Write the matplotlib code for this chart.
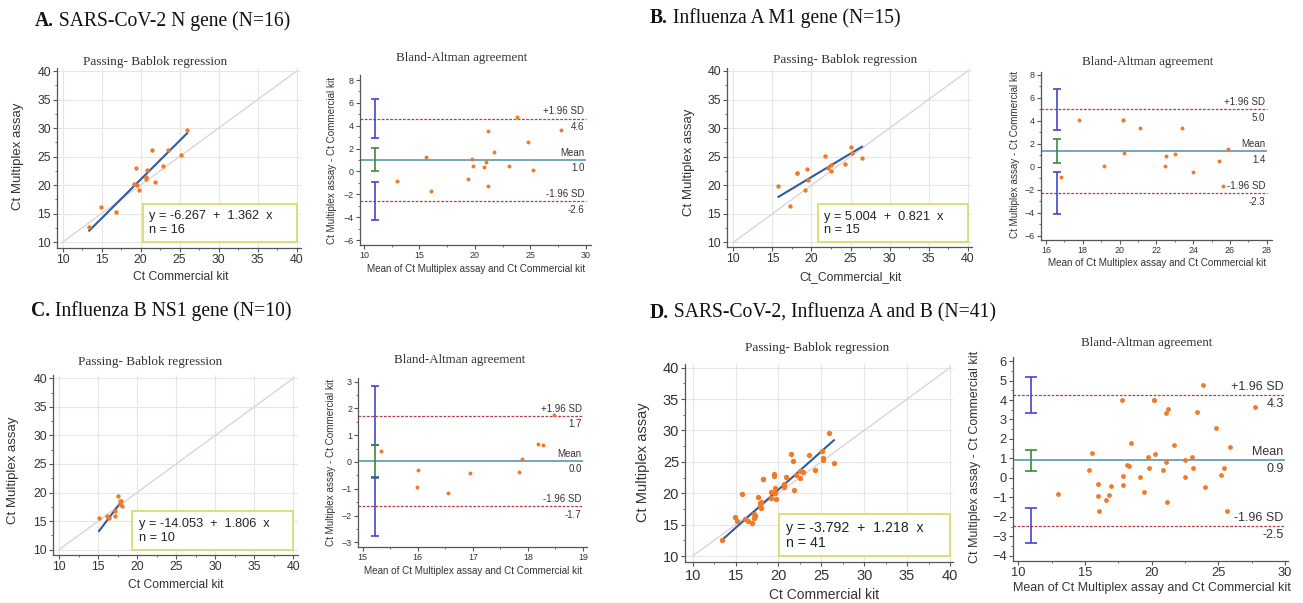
import matplotlib
matplotlib.use('Agg')
import matplotlib.pyplot as plt
import numpy as np
from matplotlib.ticker import MultipleLocator, AutoMinorLocator
from matplotlib.patches import Rectangle

W, H = 1303, 603
SERIF = 'Liberation Serif'
SANS = 'Liberation Sans'

# ---------------- data ----------------
# (Ct commercial kit, Ct multiplex assay)
a_commercial = [13.41, 14.92, 16.90, 19.76, 19.17, 19.55, 20.67, 20.65, 21.79, 19.44, 20.86, 22.86, 21.46, 23.52, 25.15, 25.95]
a_multiplex = [12.59, 16.20, 15.21, 19.06, 20.25, 20.05, 21.05, 21.44, 20.54, 23.00, 22.55, 23.36, 26.21, 26.09, 25.30, 29.60]

b_commercial = [17.27, 15.78, 19.12, 18.20, 18.20, 19.61, 19.43, 22.46, 22.07, 22.48, 21.72, 24.24, 25.15, 26.46, 25.10]
b_multiplex = [16.40, 19.80, 19.18, 22.22, 22.22, 20.83, 22.76, 22.49, 22.97, 23.55, 25.10, 23.75, 25.64, 24.78, 26.67]

c_commercial = [15.13, 16.15, 16.45, 17.13, 17.15, 18.01, 17.84, 17.85, 17.97, 17.59]
c_multiplex = [15.55, 15.84, 15.53, 15.98, 16.75, 17.65, 17.94, 18.51, 18.59, 19.36]

d_commercial = a_commercial + b_commercial + c_commercial
d_multiplex = a_multiplex + b_multiplex + c_multiplex

# Passing-Bablok: intercept, slope, n
a_fit = [-6.267, 1.362, 16]
b_fit = [5.004, 0.821, 15]
c_fit = [-14.053, 1.806, 10]
d_fit = [-3.792, 1.218, 41]

# Bland-Altman: mean difference, +1.96 SD, -1.96 SD
a_ba = [1.03, 4.63, -2.60]
b_ba = [1.36, 5.01, -2.29]
c_ba = [0.04, 1.73, -1.66]
d_ba = [0.92, 4.27, -2.46]

# 95% CI (low, high) for upper limit, mean, lower limit
a_ci = [(2.92, 6.32), (0.05, 2.01), (-4.29, -0.88)]
b_ci = [(3.22, 6.80), (0.32, 2.41), (-4.09, -0.49)]
c_ci = [(0.63, 2.82), (-0.58, 0.64), (-2.77, -0.57)]
d_ci = [(3.33, 5.20), (0.37, 1.45), (-3.33, -1.53)]

titles = ["A.", " SARS-CoV-2 N gene (N=16)", "B.", " Influenza A M1 gene (N=15)",
          "C.", " Influenza B NS1 gene (N=10)", "D.", " SARS-CoV-2, Influenza A and B (N=41)"]

# ---------------- styling ----------------
ORANGE = '#f07a28'
REGBLUE = '#2b5c9c'
IDENT = '#e2d2d2'
BOXC = '#d8d862'
MEANC = '#6aa0b4'
SDC = '#b0404e'
CIBLUE = '#4545d0'
CIGREEN = '#3b8b3b'
SPINE = '#555555'
TXT = '#333333'

fig = plt.figure(figsize=(W / 100, H / 100), dpi=100)


def px_ax(l, r, t, b):
    return fig.add_axes([l / W, 1 - b / H, (r - l) / W, (b - t) / H])


def ftext(x, y, s, **kw):
    return fig.text(x / W, 1 - y / H, s, **kw)


def style_axes(ax, fs):
    for s in ['top', 'right']:
        ax.spines[s].set_visible(False)
    for s in ['left', 'bottom']:
        ax.spines[s].set_color(SPINE)
        ax.spines[s].set_linewidth(0.9)
    ax.tick_params(which='major', direction='out', length=3, width=0.8, color=SPINE,
                   labelsize=fs, labelcolor=TXT, pad=1.5)
    ax.tick_params(which='minor', direction='out', length=1.6, width=0.6, color=SPINE)
    for lab in ax.get_xticklabels() + ax.get_yticklabels():
        lab.set_family(SANS)


def place_labels(ax, box, xlabel, ylabel, xl_xy, yl_xy, fsx, fsy):
    l, r, t, b = box
    ax.set_xlabel(xlabel, fontsize=fsx, family=SANS, color=TXT, va='center', ha='center')
    ax.xaxis.set_label_coords((xl_xy[0] - l) / (r - l), (b - xl_xy[1]) / (b - t))
    ax.set_ylabel(ylabel, fontsize=fsy, family=SANS, color=TXT, va='center', ha='center')
    ax.yaxis.set_label_coords((yl_xy[0] - l) / (r - l), (b - yl_xy[1]) / (b - t))


def regression_panel(box, xlim, ylim, com, mul, fit, eq_x0, eq_y1, title_xy, xlabel,
                     xl_xy, yl_xy, fs_tick, fsx, fsy, fs_eq, fs_title, msize):
    ax = px_ax(*box)
    ax.set_xlim(*xlim)
    ax.set_ylim(*ylim)
    ax.xaxis.set_major_locator(MultipleLocator(5))
    ax.yaxis.set_major_locator(MultipleLocator(5))
    ax.xaxis.set_minor_locator(AutoMinorLocator(2))
    ax.yaxis.set_minor_locator(AutoMinorLocator(2))
    ax.grid(which='major', color='#e6e6e6', lw=0.8)
    ax.set_axisbelow(True)
    ax.plot([10, 40], [10, 40], color=IDENT, lw=1.0, zorder=1)
    com = np.array(com)
    mul = np.array(mul)
    xs = np.array([com.min(), com.max()])
    ax.plot(xs, fit[0] + fit[1] * xs, color=REGBLUE, lw=1.5, zorder=2)
    ax.scatter(com, mul, s=msize, color=ORANGE, lw=0, zorder=3)
    ax.add_patch(Rectangle((eq_x0, 10), 40 - eq_x0, eq_y1 - 10, facecolor='white',
                           edgecolor=BOXC, lw=1.2, zorder=4, clip_on=False))
    ax.text(eq_x0 + 0.8, 10 + (eq_y1 - 10) * 0.67, f"y = {fit[0]:.3f}  +  {fit[1]:.3f}  x",
            fontsize=fs_eq, family=SANS, color='#222222', va='center', ha='left', zorder=5)
    ax.text(eq_x0 + 0.8, 10 + (eq_y1 - 10) * 0.31, f"n = {fit[2]}",
            fontsize=fs_eq, family=SANS, color='#222222', va='center', ha='left', zorder=5)
    style_axes(ax, fs_tick)
    place_labels(ax, box, xlabel, "Ct Multiplex assay", xl_xy, yl_xy, fsx, fsy)
    ftext(title_xy[0], title_xy[1], "Passing- Bablok regression", fontsize=fs_title,
          family=SERIF, color=TXT, ha='center', va='center')
    return ax


def ba_panel(box, xlim, ylim, xstep, ystep, com, mul, ba, ci, ci_x, line_end, title_xy,
             xl_xy, yl_xy, fs_tick, fs_lab, fs_note, fs_title, msize, cap):
    ax = px_ax(*box)
    ax.set_xlim(*xlim)
    ax.set_ylim(*ylim)
    ax.xaxis.set_major_locator(MultipleLocator(xstep))
    ax.yaxis.set_major_locator(MultipleLocator(ystep))
    ax.xaxis.set_minor_locator(AutoMinorLocator(2))
    ax.yaxis.set_minor_locator(AutoMinorLocator(2))
    com = np.array(com)
    mul = np.array(mul)
    avg = (com + mul) / 2
    diff = mul - com
    ax.hlines(ba[0], xlim[0], line_end, color=MEANC, lw=1.3, zorder=2)
    for v in ba[1:]:
        ax.hlines(v, xlim[0], line_end, color=SDC, lw=0.9, linestyles=(0, (2.2, 1.2)), zorder=2)
    cols = [CIBLUE, CIGREEN, CIBLUE]
    for (lo, hi), c in zip(ci, cols):
        ax.errorbar([ci_x], [(lo + hi) / 2], yerr=[[(hi - lo) / 2], [(hi - lo) / 2]], fmt='none',
                    ecolor=c, elinewidth=1.2, capsize=cap, capthick=1.2, zorder=3)
    ax.scatter(avg, diff, s=msize, color=ORANGE, lw=0, zorder=4)
    notes = [("Mean", ba[0]), ("+1.96 SD", ba[1]), ("-1.96 SD", ba[2])]
    for name, v in notes:
        ax.annotate(name, (line_end, v), xytext=(-1, 1.5), textcoords='offset points',
                    ha='right', va='bottom', fontsize=fs_note, family=SANS, color=TXT)
        ax.annotate(f"{v:.1f}", (line_end, v), xytext=(-1, -2.5), textcoords='offset points',
                    ha='right', va='top', fontsize=fs_note, family=SANS, color=TXT)
    style_axes(ax, fs_tick)
    place_labels(ax, box, "Mean of Ct Multiplex assay and Ct Commercial kit",
                 "Ct Multiplex assay - Ct Commercial kit", xl_xy, yl_xy, fs_lab, fs_lab)
    ftext(title_xy[0], title_xy[1], "Bland-Altman agreement", fontsize=fs_title,
          family=SERIF, color=TXT, ha='center', va='center')
    return ax


# ---------------- panels ----------------
regression_panel((57.2, 300.6, 68.2, 247.7), (9.3, 40.5), (9.0, 40.5), a_commercial, a_multiplex,
                 a_fit, 20.26, 16.7, (155, 62), "Ct Commercial kit", (181, 276.7), (18.3, 156.7),
                 8.8, 8.7, 9.5, 9.2, 9.5, 10)
ba_panel((360, 590.7, 75, 244.6), (9.64, 30.45), (-6.4, 8.44), 5, 2, a_commercial, a_multiplex,
         a_ba, a_ci, 11.0, 30, (462, 58), (475.7, 269), (331.7, 160), 6.4, 7.1, 7, 9.4, 8, 3)

regression_panel((727.3, 971.6, 68.1, 246.9), (9.23, 40.5), (9.2, 40.5), b_commercial, b_multiplex,
                 b_fit, 20.8, 16.7, (844.7, 60), "Ct_Commercial_kit", (850.7, 276.7), (689.3, 162),
                 8.8, 8.7, 9.5, 9.2, 9.5, 10)
ba_panel((1041.2, 1272.2, 72.4, 240), (15.74, 28.3), (-6.37, 8.2), 2, 2, b_commercial, b_multiplex,
         b_ba, b_ci, 16.62, 28, (1148, 61.7), (1156.7, 262.5), (1015, 155), 6.4, 7.1, 7, 9.4, 8, 3)

regression_panel((53.3, 298, 375.4, 555), (9.27, 40.6), (9.07, 40.5), c_commercial, c_multiplex,
                 c_fit, 19.39, 16.83, (150, 361.7), "Ct Commercial kit", (176, 585), (12.7, 470),
                 8.8, 8.7, 9.5, 9.2, 9.5, 10)
ba_panel((358.3, 587.4, 378.2, 546.6), (14.92, 19.08), (-3.16, 3.13), 1, 1, c_commercial, c_multiplex,
         c_ba, c_ci, 15.22, 19, (460, 360), (473.3, 570.5), (331, 463), 6.4, 7.1, 7, 9.4, 8, 3)

regression_panel((685.3, 953.4, 363.9, 562.3), (9.14, 40.4), (9.0, 40.6), d_commercial, d_multiplex,
                 d_fit, 20.1, 16.64, (816.7, 347.7), "Ct Commercial kit", (824.3, 595), (643, 462),
                 10.5, 10, 10.5, 10.2, 9.5, 15)
ba_panel((1013.2, 1288.3, 356.8, 560.8), (9.62, 30.25), (-4.26, 6.22), 5, 1, d_commercial, d_multiplex,
         d_ba, d_ci, 10.95, 30, (1146.7, 342.7), (1152, 587.5), (975, 456.7), 9.3, 9.0, 9, 9.4, 12, 4)

# panel titles with bold letter
renderer = fig.canvas.get_renderer()
title_pos = [(35, 21), (650, 18), (30.7, 311), (650, 313)]
for i, (x, y) in enumerate(title_pos):
    t1 = ftext(x, y, titles[2 * i], fontsize=14.1, family=SERIF, fontweight='bold',
               color='#111111', ha='left', va='center')
    bb = t1.get_window_extent(renderer)
    ftext(bb.x1, y, titles[2 * i + 1], fontsize=14.1, family=SERIF, color='#111111',
          ha='left', va='center')

fig.savefig('out.png', dpi=100)
